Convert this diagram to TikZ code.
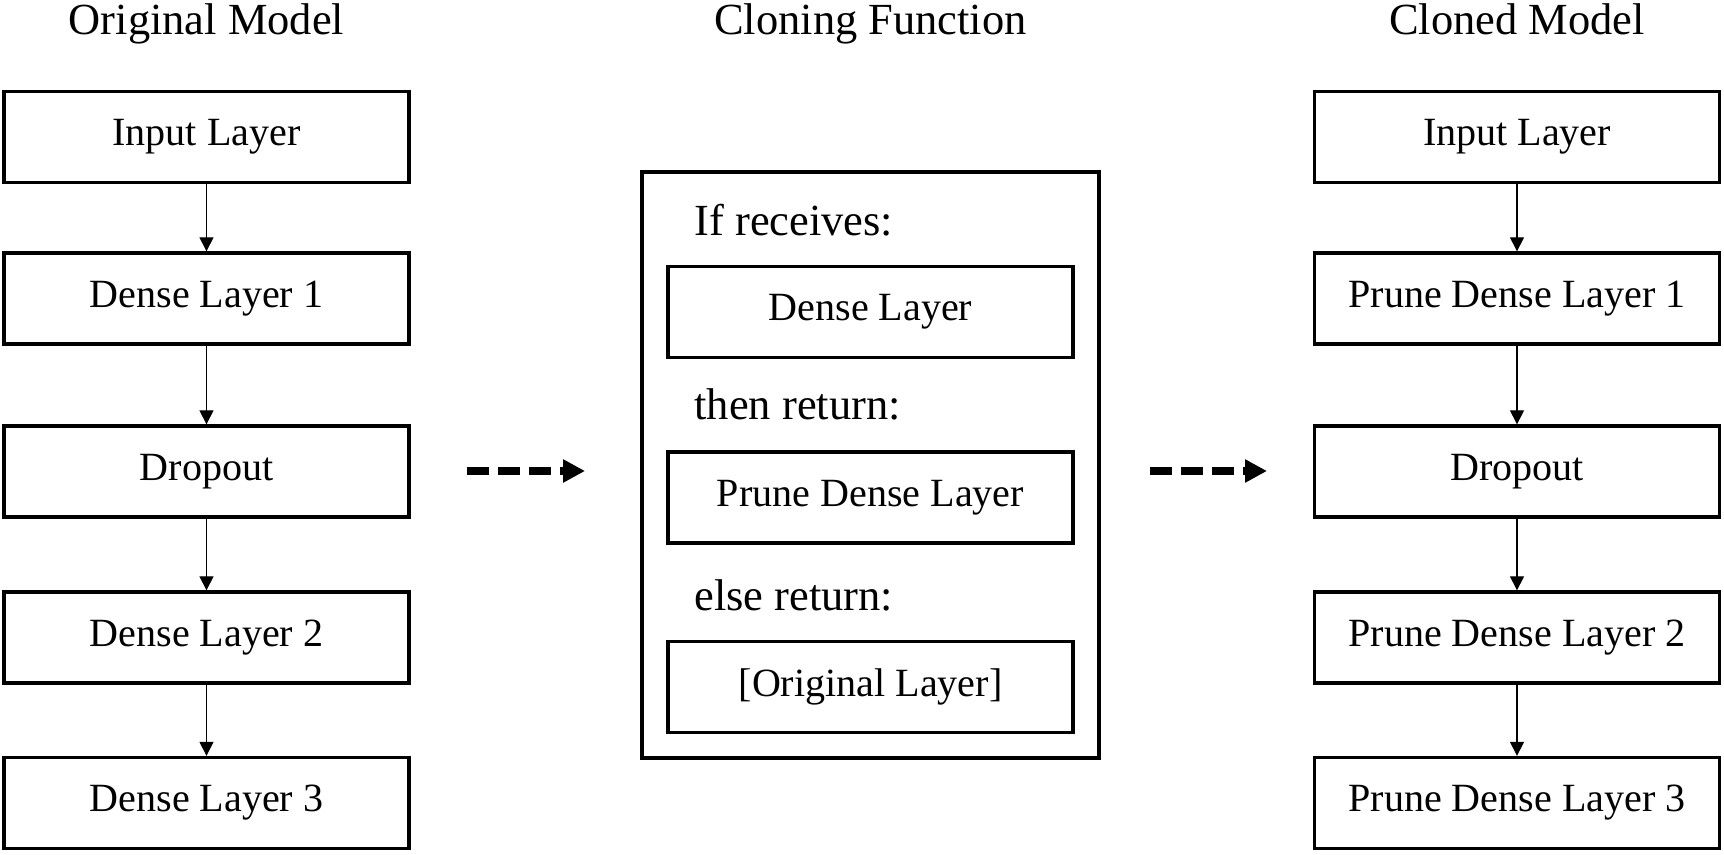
\documentclass[tikz,border=0pt]{standalone}
\usepackage{fontspec}
\setmainfont{Liberation Serif}
\usetikzlibrary{arrows.meta, positioning}

\begin{document}
\begin{tikzpicture}[>={Triangle[length=0.28cm, width=0.28cm]}, line width=0.75pt]
      \tikzstyle{layer}=[draw, line width=1.9pt, minimum width=8.1cm,
        minimum height=1.82cm, inner sep=0pt, font=\fontsize{22.8}{27}\selectfont]
      \tikzstyle{heading}=[anchor=base, font=\fontsize{25.3}{30}\selectfont]
      \tikzstyle{cue}=[anchor=base west, font=\fontsize{25.3}{30}\selectfont]
      \tikzstyle{hop}=[-{Triangle[length=0.44cm, width=0.44cm]}, line width=4pt,
        dash pattern=on 0.44cm off 0.18cm]

      \useasboundingbox (0,0) rectangle (34.48,-17.1);

      % Column headings.
      \node[heading] (h_orig)  at (4.13,-0.7)  {Original Model};
      \node[heading] (h_clone) at (17.41,-0.7) {Cloning Function};
      \node[heading] (h_new)   at (30.34,-0.7) {Cloned Model};

      % Original model, top to bottom.
      \node[layer] (o_in)   at (4.13,-2.74)  {Input Layer};
      \node[layer] (o_d1)   at (4.13,-5.97)  {Dense Layer 1};
      \node[layer] (o_drop) at (4.13,-9.43)  {Dropout};
      \node[layer] (o_d2)   at (4.13,-12.75) {Dense Layer 2};
      \node[layer] (o_d3)   at (4.13,-16.06) {Dense Layer 3};

      % Cloning function box with its rules.
      \node[draw, line width=1.9pt, minimum width=9.14cm, minimum height=11.72cm]
        (fn) at (17.41,-9.3) {};
      \node[cue] (c_if)   at (13.76,-4.72)  {If receives:};
      \node[layer] (f_dense) at (17.41,-6.24) {Dense Layer};
      \node[cue] (c_then) at (13.76,-8.4)   {then return:};
      \node[layer] (f_prune) at (17.41,-9.95) {Prune Dense Layer};
      \node[cue] (c_else) at (13.76,-12.22) {else return:};
      \node[layer] (f_orig)  at (17.41,-13.74) {[Original Layer]};

      % Cloned model, top to bottom.
      \node[layer] (n_in)   at (30.34,-2.74)  {Input Layer};
      \node[layer] (n_d1)   at (30.34,-5.97)  {Prune Dense Layer 1};
      \node[layer] (n_drop) at (30.34,-9.43)  {Dropout};
      \node[layer] (n_d2)   at (30.34,-12.75) {Prune Dense Layer 2};
      \node[layer] (n_d3)   at (30.34,-16.06) {Prune Dense Layer 3};

      % Ends of the dashed hand-over arrows.
      \coordinate (a_from) at (9.34,-9.42);
      \coordinate (a_to)   at (11.7,-9.42);
      \coordinate (b_from) at (23.0,-9.42);
      \coordinate (b_to)   at (25.34,-9.42);

      % Layer flow.
      \path[->]
        (o_in)   edge (o_d1)
        (o_d1)   edge (o_drop)
        (o_drop) edge (o_d2)
        (o_d2)   edge (o_d3)
        (n_in)   edge (n_d1)
        (n_d1)   edge (n_drop)
        (n_drop) edge (n_d2)
        (n_d2)   edge (n_d3);

      \draw[hop] (a_from) -- (a_to);
      \draw[hop] (b_from) -- (b_to);
    \end{tikzpicture}
\end{document}
